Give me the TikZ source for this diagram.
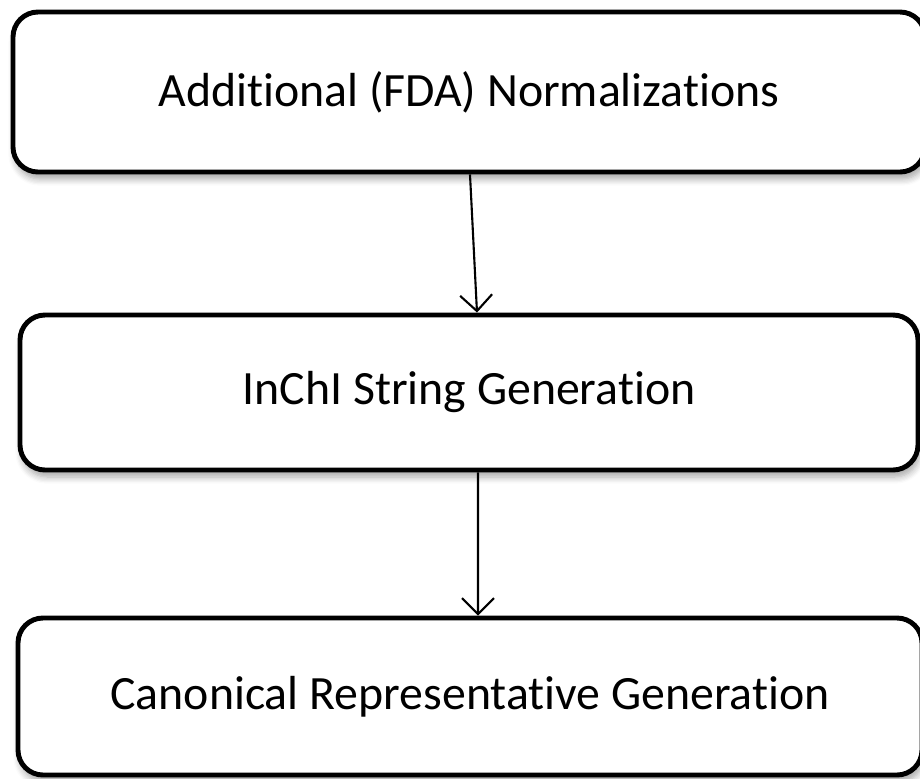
\documentclass[tikz,border=0pt]{standalone}
\usepackage{fontspec}
\setmainfont[Ligatures = NoCommon]{Carlito}
\usetikzlibrary{arrows.meta, shadows.blur}

\tikzset{
  stage/.style = {draw, line width = 1.4pt, rounded corners = .25cm, fill = white,
    font = \fontsize{13.6}{16}\selectfont, inner sep = 0pt,
    blur shadow = {shadow xshift = .02cm, shadow yshift = -.07cm, shadow blur steps = 6, shadow opacity = 35}},
  flow/.style = {-{Straight Barb[length = 1.6mm, width = 3.2mm, line width = .6pt]}, line width = .6pt}
}

\begin{document}
\begin{tikzpicture}
\useasboundingbox (0, 0) rectangle (9.2, 7.78);
% the three stages, top to bottom
\node at (4.69, 6.86) [name=fda, stage, minimum width = 9.12cm, minimum height = 1.6cm] {Additional (FDA) Normalizations};
\node at (4.69, 3.855) [name=inchi, stage, minimum width = 8.98cm, minimum height = 1.55cm] {InChI String Generation};
\node at (4.70, 0.815) [name=canon, stage, minimum width = 9.04cm, minimum height = 1.57cm] {Canonical Representative Generation};
%\draw [help lines] (0, 0) grid (9.2, 7.78);
\draw [flow] ([xshift = .01cm] fda.south) -- ([xshift = .08cm] inchi.north);
\draw [flow] ([xshift = .09cm] inchi.south) -- ([xshift = .08cm] canon.north);
\end{tikzpicture}
\end{document}
